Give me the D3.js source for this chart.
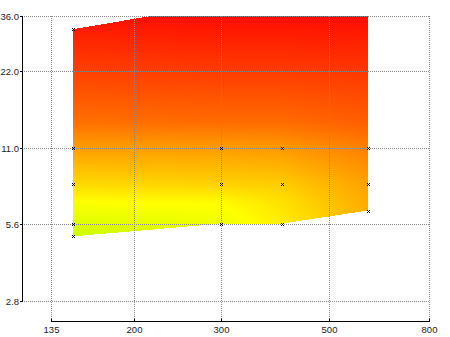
<!DOCTYPE html>
<html><head><meta charset="utf-8">
<script src="https://cdn.jsdelivr.net/npm/d3@7"></script>
<style>body{margin:0;background:#fff}svg{display:block}text{font-family:"Liberation Sans",Arial,sans-serif;font-size:9.5px;fill:#222}</style>
</head><body><div id="chart"></div>
<script>
// ---- data ----
const xTicks = [135, 200, 300, 500, 800];
const xTickLabels = ["135", "200", "300", "500", "800"];
const yTicks = [2.8, 5.6, 11, 22, 36];
const yTickLabels = ["2.8", "5.6", "11.0", "22.0", "36.0"];
// measured points
const pointX = [150,150,150,150,150, 300,300,300, 400,400,400, 600,600,600];
const pointY = [32,11,8,5.6,5.0, 11,8,5.6, 11,8,5.6, 11,8,6.3];
// outline of the surface domain
const hullX = [150, 600, 600, 400, 300, 150];
const hullY = [32, 50, 6.3, 5.6, 5.6, 5.0];
// surface value (hue) on a grid
const gridX = [150, 300, 400, 600];
const gridY = [5.0, 5.6, 6.8, 8, 11, 14, 22, 36];
const hue150 = [72, 68, 60, 51, 37, 26, 15, 4];
const hue300 = [68, 64, 59, 49, 37, 25, 14, 3];
const hue400 = [62, 56, 53, 48, 36, 25, 14, 3];
const hue600 = [44, 42, 40, 38, 30, 22, 13, 3];
const hueCols = [hue150, hue300, hue400, hue600];

const W = 450, H = 337;
const x = d3.scaleLog().domain([135, 800]).range([51, 429]);
const y = d3.scaleLog().domain([2.8, 36]).range([301, 16]);

const svg = d3.select("#chart").append("svg").attr("width", W).attr("height", H);

// ---- surface ----
function locate(arr, v) {
  const lv = Math.log(v);
  if (lv <= Math.log(arr[0])) return [0, 0];
  const n = arr.length;
  if (lv >= Math.log(arr[n-1])) return [n-2, 1];
  for (let i = 0; i < n-1; i++) {
    const a = Math.log(arr[i]), b = Math.log(arr[i+1]);
    if (lv >= a && lv <= b) return [i, (lv - a) / (b - a)];
  }
  return [n-2, 1];
}
function hueAt(xv, yv) {
  const [i, fx] = locate(gridX, xv);
  const [j, fy] = locate(gridY, yv);
  const c0 = hueCols[i], c1 = hueCols[i+1];
  const a = c0[j] + (c0[j+1] - c0[j]) * fy;
  const b = c1[j] + (c1[j+1] - c1[j]) * fy;
  return a + (b - a) * fx;
}
const poly = hullX.map((v, k) => [x(v), y(hullY[k])]);
const canvas = document.createElement("canvas");
canvas.width = W; canvas.height = H;
const ctx = canvas.getContext("2d");
const img = ctx.createImageData(W, H);
const rowTop = Math.round(y(36)), rowBot = Math.round(y(2.8));
for (let py = rowTop; py < rowBot; py++) {
  for (let px = Math.floor(x(150)); px < Math.ceil(x(600)); px++) {
    if (!d3.polygonContains(poly, [px + 0.5, py + 0.5])) continue;
    const h = hueAt(x.invert(px + 0.5), y.invert(py + 0.5));
    const c = d3.rgb(d3.hsl(h, 1, 0.5));
    const o = (py * W + px) * 4;
    img.data[o] = c.r; img.data[o+1] = c.g; img.data[o+2] = c.b; img.data[o+3] = 255;
  }
}
ctx.putImageData(img, 0, 0);
svg.append("image").attr("x", 0).attr("y", 0).attr("width", W).attr("height", H)
  .attr("href", canvas.toDataURL());

// ---- grid ----
const grid = svg.append("g").attr("stroke", "#888").attr("stroke-width", 1).attr("stroke-dasharray", "1,1").attr("fill", "none");
grid.selectAll("line.h").data(yTicks).join("line").attr("class", "h")
  .attr("x1", 22).attr("x2", x(800) + 0.5)
  .attr("y1", d => Math.round(y(d)) + 0.5).attr("y2", d => Math.round(y(d)) + 0.5);
grid.selectAll("line.v").data(xTicks).join("line").attr("class", "v")
  .attr("x1", d => Math.round(x(d)) + 0.5).attr("x2", d => Math.round(x(d)) + 0.5)
  .attr("y1", y(36)).attr("y2", 320);

// ---- axes ----
const ax = svg.append("g").attr("stroke", "#000").attr("stroke-width", 1);
ax.append("line").attr("x1", 22.5).attr("x2", 22.5).attr("y1", y(36)).attr("y2", Math.round(y(2.8)) + 1);
ax.selectAll("line.yt").data(yTicks).join("line").attr("class", "yt")
  .attr("x1", 20).attr("x2", 22).attr("y1", d => Math.round(y(d)) + 0.5).attr("y2", d => Math.round(y(d)) + 0.5);
ax.append("line").attr("x1", Math.round(x(135))).attr("x2", Math.round(x(800)) + 1).attr("y1", 321.5).attr("y2", 321.5);
ax.selectAll("line.xt").data(xTicks).join("line").attr("class", "xt")
  .attr("x1", d => Math.round(x(d)) + 0.5).attr("x2", d => Math.round(x(d)) + 0.5).attr("y1", 318.5).attr("y2", 321);

svg.selectAll("text.yl").data(yTicks).join("text").attr("class", "yl")
  .attr("x", 19).attr("y", d => Math.round(y(d)) + 4).attr("text-anchor", "end")
  .text((d, i) => yTickLabels[i]);
svg.selectAll("text.xl").data(xTicks).join("text").attr("class", "xl")
  .attr("x", d => Math.round(x(d)) + 0.5).attr("y", 332.5).attr("text-anchor", "middle")
  .text((d, i) => xTickLabels[i]);

// ---- markers ----
svg.append("g").attr("stroke", "#000").attr("stroke-width", 1).attr("fill", "none")
  .selectAll("path").data(pointX.map((v, k) => [v, pointY[k]])).join("path")
  .attr("transform", d => `translate(${Math.round(x(d[0])) + 0.5},${Math.round(y(d[1])) + 0.5})`)
  .attr("d", "M-1.5,-1.5L1.5,1.5M-1.5,1.5L1.5,-1.5");
</script></body></html>
